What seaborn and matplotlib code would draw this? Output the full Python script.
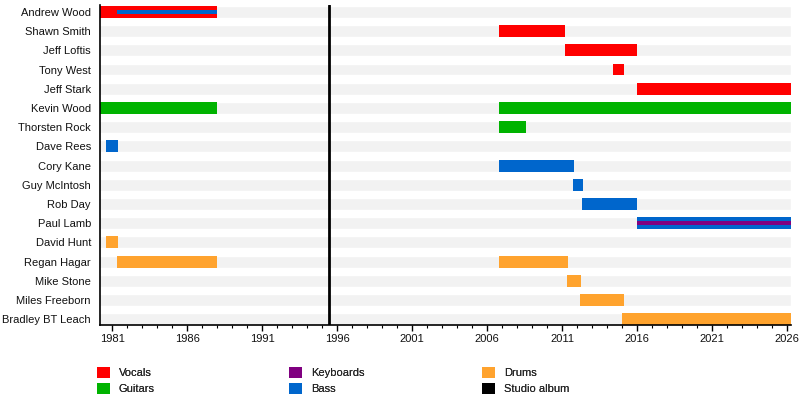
import matplotlib
matplotlib.use("Agg")
import matplotlib.pyplot as plt
from matplotlib.patches import Patch
from matplotlib.ticker import MultipleLocator, FixedLocator
import seaborn as sns
import pandas as pd

# ---------------- data ----------------
members = ["Andrew Wood", "Shawn Smith", "Jeff Loftis", "Tony West", "Jeff Stark",
           "Kevin Wood", "Thorsten Rock", "Dave Rees", "Cory Kane", "Guy McIntosh",
           "Rob Day", "Paul Lamb", "David Hunt", "Regan Hagar", "Mike Stone",
           "Miles Freeborn", "Bradley BT Leach"]

timeline_start = 1980.2
timeline_end = 2026.25

# main bars
seg_member = ["Andrew Wood", "Shawn Smith", "Jeff Loftis", "Tony West", "Jeff Stark",
              "Kevin Wood", "Kevin Wood", "Thorsten Rock", "Dave Rees", "Cory Kane",
              "Guy McIntosh", "Rob Day", "Paul Lamb", "David Hunt", "Regan Hagar",
              "Regan Hagar", "Mike Stone", "Miles Freeborn", "Bradley BT Leach"]
seg_role = ["Vocals", "Vocals", "Vocals", "Vocals", "Vocals",
            "Guitars", "Guitars", "Guitars", "Bass", "Bass",
            "Bass", "Bass", "Bass", "Drums", "Drums",
            "Drums", "Drums", "Drums", "Drums"]
seg_start = [1980.2, 2006.8, 2011.15, 2014.4, 2016.0,
             1980.2, 2006.8, 2006.8, 1980.6, 2006.8,
             2011.7, 2012.3, 2016.0, 1980.6, 1981.3,
             2006.8, 2011.3, 2012.2, 2015.0]
seg_end = [1988.0, 2011.2, 2016.0, 2015.1, 2026.25,
           1988.0, 2026.25, 2008.55, 1981.4, 2011.75,
           2012.4, 2016.0, 2026.25, 1981.4, 1988.0,
           2011.4, 2012.25, 2015.1, 2026.25]

# thin secondary-role bars
sub_member = ["Andrew Wood", "Paul Lamb"]
sub_role = ["Bass", "Keyboards"]
sub_start = [1981.3, 2016.0]
sub_end = [1988.0, 2026.25]

album_years = [1995.45]

roles = ["Vocals", "Guitars", "Keyboards", "Bass", "Drums"]
role_colors = ["#ff0000", "#00b300", "#800080", "#0066cc", "#ffa32e"]

tick_years = [1981, 1986, 1991, 1996, 2001, 2006, 2011, 2016, 2021, 2026]

# ---------------- plot ----------------
sns.set_theme(style="white")
plt.rcParams["font.family"] = ["Liberation Sans", "DejaVu Sans"]

color_of = dict(zip(roles, role_colors))
row_of = {m: i for i, m in enumerate(members)}

fig = plt.figure(figsize=(8, 4.05), dpi=100)
ax = fig.add_axes([0.125, 0.1985, 0.86375, 0.7892])

# background stripes
bg = pd.DataFrame({"member": members, "end": [timeline_end] * len(members)})
sns.barplot(data=bg, x="end", y="member", orient="h", color="#f2f2f2",
            width=0.62, ax=ax, saturation=1, zorder=1)

bar_h = 0.62
for m, r, s, e in zip(seg_member, seg_role, seg_start, seg_end):
    ax.barh(row_of[m], e - s, left=s, height=bar_h, color=color_of[r],
            linewidth=0, zorder=2)
for m, r, s, e in zip(sub_member, sub_role, sub_start, sub_end):
    ax.barh(row_of[m], e - s, left=s, height=0.22, color=color_of[r],
            linewidth=0, zorder=3)

for yr in album_years:
    ax.axvline(yr, color="black", lw=2.0, zorder=4)

ax.set_xlim(timeline_start - 0.02, timeline_end)
ax.set_ylim(len(members) - 1 + 0.28, -0.36)
ax.xaxis.set_major_locator(FixedLocator(tick_years))
ax.xaxis.set_minor_locator(MultipleLocator(1))
ax.set_xticklabels([str(t) for t in tick_years])
ax.set_xlabel("")
ax.set_ylabel("")

for side in ["top", "right"]:
    ax.spines[side].set_visible(False)
for side in ["left", "bottom"]:
    ax.spines[side].set_visible(True)
    ax.spines[side].set_color("black")
    ax.spines[side].set_linewidth(1.2)

ax.tick_params(axis="x", which="major", direction="out", length=4, width=1,
               color="black", labelsize=8, pad=3, labelcolor="#111111", bottom=True)
ax.tick_params(axis="x", which="minor", direction="out", length=2.5, width=0.8,
               color="black", bottom=True)
ax.tick_params(axis="y", length=0, labelsize=8, pad=6.5, labelcolor="#111111")
ax.grid(False)

# legend: three columns of two entries
handles = [Patch(facecolor=c, edgecolor="none") for c in role_colors]
handles.append(Patch(facecolor="black", edgecolor="none"))
labels = roles + ["Studio album"]
cols = [(0, 1), (2, 3), (4, 5)]
col_x = [97 / 800, 289 / 800, 482 / 800]
for (i, j), x0 in zip(cols, col_x):
    leg = fig.legend([handles[i], handles[j]], [labels[i], labels[j]],
                     loc="upper left", bbox_to_anchor=(x0, 1 - 367 / 405),
                     frameon=False, fontsize=8, handlelength=1.2, handleheight=1.2,
                     handletextpad=0.75, labelspacing=0.38, borderpad=0,
                     borderaxespad=0)
    fig.add_artist(leg)

fig.savefig("out.png", dpi=100)
